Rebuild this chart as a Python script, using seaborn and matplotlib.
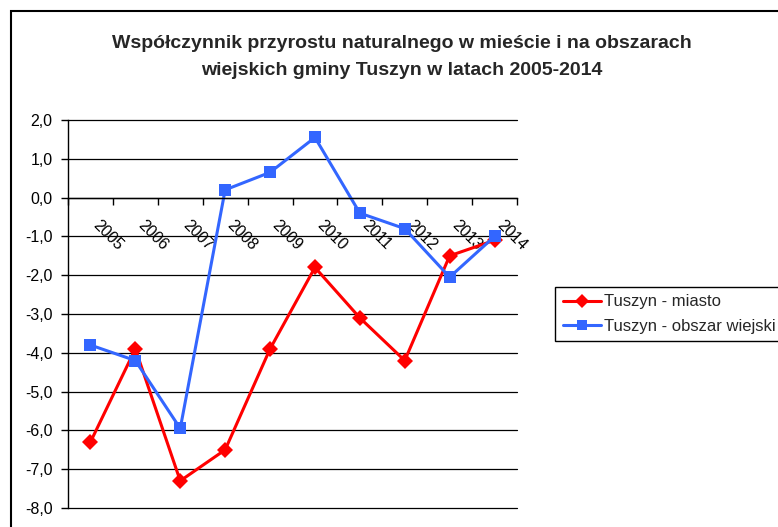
import numpy as np
import pandas as pd
import seaborn as sns
import matplotlib.pyplot as plt
from matplotlib.patches import Rectangle
from matplotlib.ticker import FuncFormatter, FixedLocator
from matplotlib.transforms import ScaledTranslation

years = list(range(2005, 2015))
miasto = [-6.3, -3.9, -7.3, -6.5, -3.9, -1.8, -3.1, -4.2, -1.5, -1.1]
wies = [-3.8, -4.2, -5.95, 0.2, 0.65, 1.55, -0.4, -0.8, -2.05, -1.0]
series_names = ['Tuszyn - miasto', 'Tuszyn - obszar wiejski']
colors = {'Tuszyn - miasto': '#FF0000', 'Tuszyn - obszar wiejski': '#3366FF'}
markers = {'Tuszyn - miasto': 'D', 'Tuszyn - obszar wiejski': 's'}
title = ('Współczynnik przyrostu naturalnego w mieście i na obszarach\n'
         'wiejskich gminy Tuszyn w latach 2005-2014')

df = pd.DataFrame({
    'rok': years * 2,
    'wartosc': miasto + wies,
    'seria': [series_names[0]] * len(years) + [series_names[1]] * len(years),
})

sns.set_style('white')
plt.rcParams['font.family'] = ['Liberation Sans', 'DejaVu Sans']

fig = plt.figure(figsize=(7.78, 5.27), dpi=100)
ax = fig.add_axes([68 / 778, 1 - 508 / 527, (517 - 68) / 778, (508 - 120) / 527])

sns.lineplot(data=df, x='rok', y='wartosc', hue='seria', style='seria',
             hue_order=series_names, style_order=series_names,
             palette=colors, markers=markers, dashes=False,
             linewidth=2.2, markersize=8.5, markeredgewidth=0, ax=ax)

ax.set_xlim(years[0] - 0.5, years[-1] + 0.5)
ax.set_ylim(-8, 2)
ax.set_xlabel('')
ax.set_ylabel('')

# y axis
ax.yaxis.set_major_locator(FixedLocator(np.arange(-8, 2.5, 1)))
ax.yaxis.set_major_formatter(FuncFormatter(lambda v, p: f'{v:.1f}'.replace('.', ',')))
ax.tick_params(axis='y', direction='out', length=5, width=1, color='black',
               labelsize=11.5, labelcolor='black', left=True, pad=6)
ax.grid(axis='y', color='black', linewidth=0.9)
ax.set_axisbelow(True)
for gl in ax.get_ygridlines():
    gl.set_clip_on(False)

# category axis crossing at 0
ax.spines['bottom'].set_position(('data', 0))
for s in ['top', 'right']:
    ax.spines[s].set_visible(False)
for s in ['left', 'bottom']:
    ax.spines[s].set_color('black')
    ax.spines[s].set_linewidth(1)
ax.xaxis.set_major_locator(FixedLocator(np.arange(years[0] - 0.5, years[-1] + 1, 1)))
ax.xaxis.set_minor_locator(FixedLocator(years))
ax.set_xticklabels([], minor=False)
ax.set_xticklabels([str(y) for y in years], minor=True)
ax.tick_params(axis='x', which='major', direction='out', length=5, width=1,
               color='black', bottom=True)
ax.tick_params(axis='x', which='minor', length=0, pad=14, labelsize=11.5,
               labelcolor='black', bottom=True)
shift = ScaledTranslation(0.1, 0, fig.dpi_scale_trans)
for lab in ax.get_xticklabels(minor=True):
    lab.set_rotation(-45)
    lab.set_ha('left')
    lab.set_va('top')
    lab.set_rotation_mode('anchor')
    lab.set_transform(lab.get_transform() + shift)

# marker sizes per series
lines = ax.get_lines()
if len(lines) >= 2:
    lines[1].set_markersize(8)

# legend
handles, labels = ax.get_legend_handles_labels()
for h in handles:
    h.set_markeredgewidth(0)
    h.set_linewidth(2.2)
    h.set_markersize(7.5)
ax.legend(handles, labels, loc='upper left',
          bbox_to_anchor=(555 / 778, 1 - 287 / 527), bbox_transform=fig.transFigure,
          frameon=True, fancybox=False, framealpha=1, edgecolor='black',
          fontsize=12, handlelength=2.3, handletextpad=0.2, borderpad=0.45,
          labelspacing=0.55, borderaxespad=0)
ax.get_legend().get_frame().set_linewidth(1)

fig.text(402 / 778, 1 - 35 / 527, title, ha='center', va='top',
         fontsize=14, fontweight='bold', linespacing=1.75)

fig.add_artist(Rectangle((11 / 778, -0.1), 1.2, 1.1 - 11 / 527,
                         transform=fig.transFigure, fill=False,
                         edgecolor='black', linewidth=1.5, clip_on=False))

fig.savefig('out.png', dpi=100)
